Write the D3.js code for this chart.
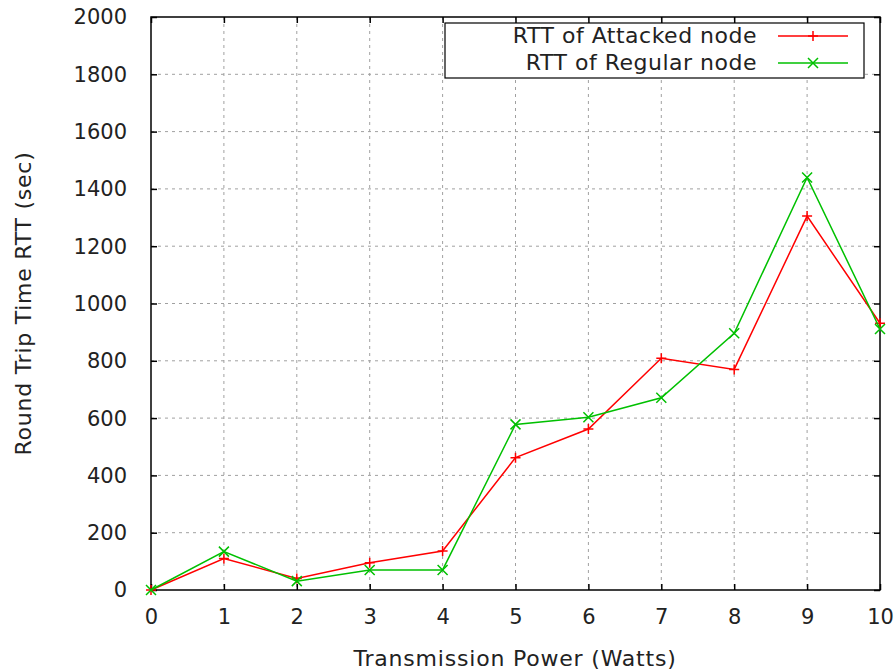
<!DOCTYPE html>
<html>
<head>
<meta charset="utf-8">
<script src="https://cdn.jsdelivr.net/npm/d3@7"></script>
<style>
  body { margin: 0; background: #fff; }
  text { font-family: "DejaVu Sans", sans-serif; fill: #222; }
</style>
</head>
<body>
<div id="chart"></div>
<script>
// data
const power = [0, 1, 2, 3, 4, 5, 6, 7, 8, 9, 10];
const attacked = [0, 110, 40, 95, 136, 462, 562, 809, 770, 1305, 931];
const regular = [0, 134, 31, 70, 70, 578, 603, 671, 896, 1440, 911];
const xTicks = [0, 1, 2, 3, 4, 5, 6, 7, 8, 9, 10];
const yTicks = [0, 200, 400, 600, 800, 1000, 1200, 1400, 1600, 1800, 2000];

const width = 896, height = 670;
const plotL = 151, plotR = 880, plotT = 17, plotB = 590;

const svg = d3.select("#chart").append("svg")
    .attr("width", width)
    .attr("height", height);

const x = d3.scaleLinear().domain([0, 10]).range([plotL, plotR]);
const y = d3.scaleLinear().domain([0, 2000]).range([plotB, plotT]);

// grid
const grid = svg.append("g")
    .attr("stroke", "#a0a0a0")
    .attr("stroke-width", 1)
    .attr("stroke-dasharray", "3,4");
grid.selectAll(".gx")
    .data(xTicks.slice(1, -1))
    .enter().append("line")
    .attr("x1", d => x(d)).attr("x2", d => x(d))
    .attr("y1", plotT).attr("y2", plotB);
grid.selectAll(".gy")
    .data(yTicks.slice(1, -1))
    .enter().append("line")
    .attr("y1", d => y(d)).attr("y2", d => y(d))
    .attr("x1", plotL).attr("x2", plotR);

// axes, ticks pointing inward on all four sides
svg.append("g")
    .attr("transform", "translate(0," + plotB + ")")
    .call(d3.axisBottom(x).tickValues(xTicks).tickSize(-6).tickFormat(d3.format("d")))
    .call(g => g.select(".domain").remove())
    .call(g => g.selectAll("text")
        .attr("y", 34).attr("dy", null)
        .attr("font-size", 21).style("font-family", "DejaVu Sans").attr("fill", "#222"));
svg.append("g")
    .attr("transform", "translate(0," + plotT + ")")
    .call(d3.axisTop(x).tickValues(xTicks).tickSize(-6).tickFormat(""))
    .call(g => g.select(".domain").remove());
svg.append("g")
    .attr("transform", "translate(" + plotL + ",0)")
    .call(d3.axisLeft(y).tickValues(yTicks).tickSize(-6).tickFormat(d3.format("d")))
    .call(g => g.select(".domain").remove())
    .call(g => g.selectAll("text")
        .attr("x", -24).attr("dy", "0.33em")
        .attr("font-size", 21).style("font-family", "DejaVu Sans").attr("fill", "#222"));
svg.append("g")
    .attr("transform", "translate(" + plotR + ",0)")
    .call(d3.axisRight(y).tickValues(yTicks).tickSize(-6).tickFormat(""))
    .call(g => g.select(".domain").remove());
svg.selectAll(".tick line").attr("stroke", "#000").attr("stroke-width", 1.5);

svg.append("rect")
    .attr("x", plotL).attr("y", plotT)
    .attr("width", plotR - plotL).attr("height", plotB - plotT)
    .attr("fill", "none")
    .attr("stroke", "#000")
    .attr("stroke-width", 1.5);

// axis titles
svg.append("text")
    .attr("x", 515)
    .attr("y", 666)
    .attr("text-anchor", "middle")
    .attr("font-size", 22)
    .attr("letter-spacing", 0.8)
    .text("Transmission Power (Watts)");
svg.append("text")
    .attr("transform", "translate(31," + ((plotT + plotB) / 2) + ") rotate(-90)")
    .attr("text-anchor", "middle")
    .attr("font-size", 22)
    .attr("letter-spacing", 0.75)
    .text("Round Trip Time RTT (sec)");

// markers
function plus(g, cx, cy, color) {
    g.append("path")
        .attr("d", `M${cx - 5},${cy}H${cx + 5}M${cx},${cy - 5}V${cy + 5}`)
        .attr("stroke", color).attr("stroke-width", 1.5).attr("fill", "none");
}
function cross(g, cx, cy, color) {
    g.append("path")
        .attr("d", `M${cx - 5},${cy - 5}L${cx + 5},${cy + 5}M${cx - 5},${cy + 5}L${cx + 5},${cy - 5}`)
        .attr("stroke", color).attr("stroke-width", 1.5).attr("fill", "none");
}

const series = [
    { name: "RTT of Attacked node", values: attacked, color: "#ff0000", mark: plus },
    { name: "RTT of Regular node", values: regular, color: "#00c000", mark: cross }
];

const line = d3.line()
    .x((d, i) => x(power[i]))
    .y(d => y(d));

// legend box
const lg = svg.append("g");
lg.append("rect")
    .attr("x", 445).attr("y", 23)
    .attr("width", 419).attr("height", 55)
    .attr("fill", "#fff")
    .attr("stroke", "#000")
    .attr("stroke-width", 1.2);

series.forEach((s, k) => {
    const ly = 36 + k * 27;
    lg.append("text")
        .attr("x", 757).attr("y", ly + 7)
        .attr("text-anchor", "end")
        .attr("font-size", 22)
        .attr("letter-spacing", 0.5)
        .text(s.name);
    lg.append("line")
        .attr("x1", 778).attr("x2", 848)
        .attr("y1", ly).attr("y2", ly)
        .attr("stroke", s.color).attr("stroke-width", 1.5);
    s.mark(lg, 813, ly, s.color);
});

// lines drawn after the legend so nothing hides them
series.forEach(s => {
    const g = svg.append("g");
    g.append("path")
        .datum(s.values)
        .attr("d", line)
        .attr("fill", "none")
        .attr("stroke", s.color)
        .attr("stroke-width", 1.5);
    s.values.forEach((v, i) => s.mark(g, x(power[i]), y(v), s.color));
});
</script>
</body>
</html>
